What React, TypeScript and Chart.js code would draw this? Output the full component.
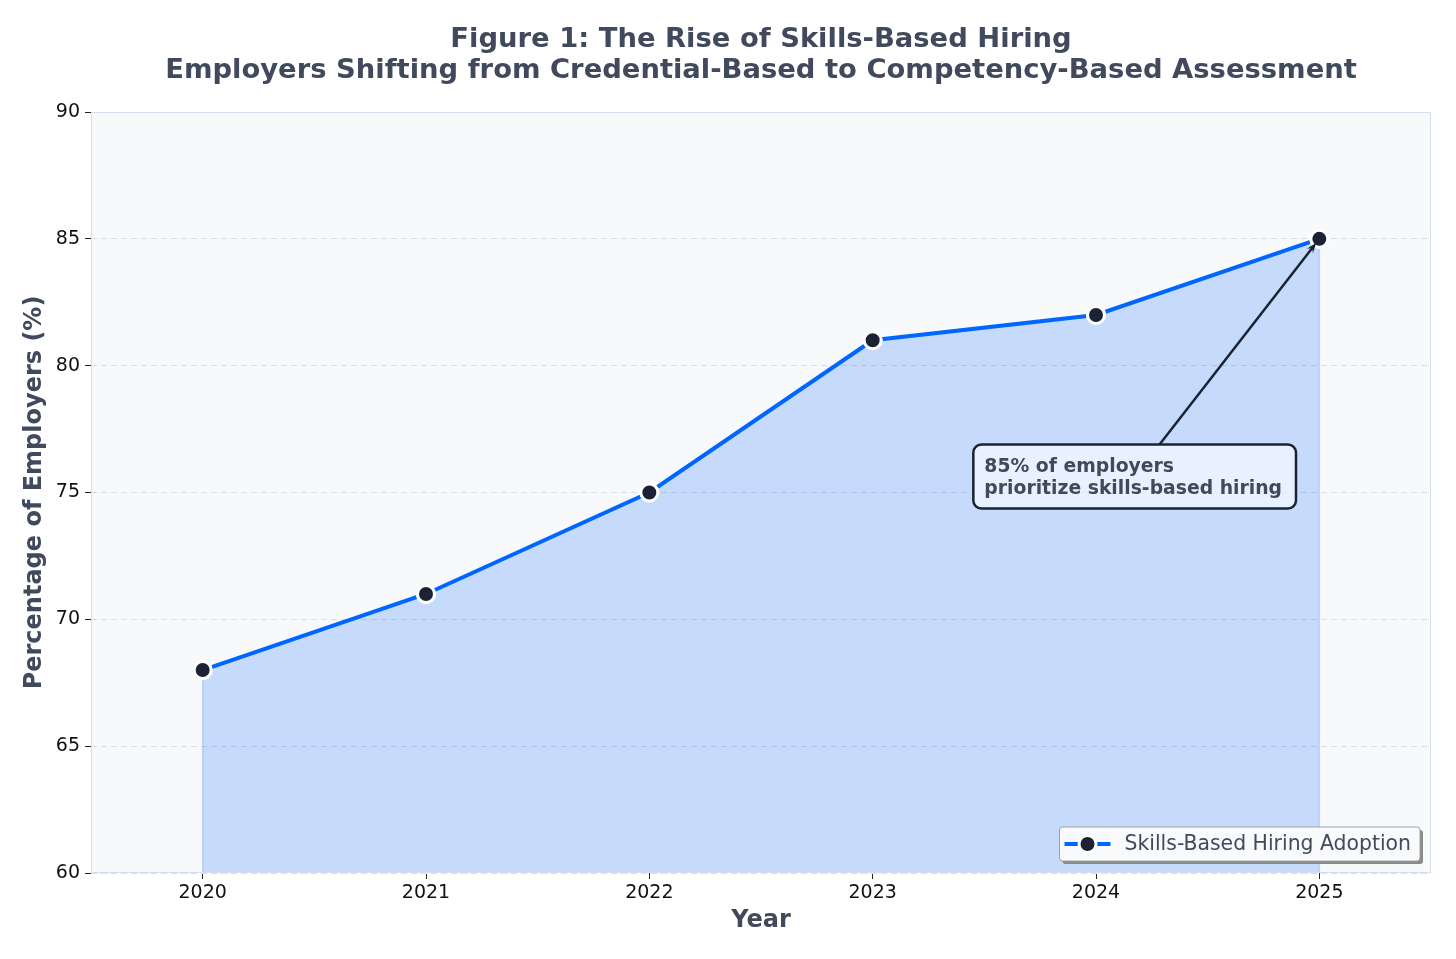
import React, { useEffect, useRef } from "react";
import { Chart, registerables } from "chart.js";

Chart.register(...registerables);

// Share of employers using skills-based hiring, by year
const years = ["2020", "2021", "2022", "2023", "2024", "2025"];
const adoption = [68, 71, 75, 81, 82, 85];
const yMin = 60;
const yMax = 90;
const yStep = 5;

const titleLines = [
  "Figure 1: The Rise of Skills-Based Hiring",
  "Employers Shifting from Credential-Based to Competency-Based Assessment",
];
const seriesLabel = "Skills-Based Hiring Adoption";
const xTitle = "Year";
const yTitle = "Percentage of Employers (%)";
const calloutLines = ["85% of employers", "prioritize skills-based hiring"];
// callout text anchor (category index units, value) and the point it refers to
const calloutAt = [3.5, 75];
const calloutTarget = [5, 85];

const FONT = "'DejaVu Sans', sans-serif";
const INK = "#414a5c";
const DARK = "#1a2233";
const BLUE = "#0066ff";
const MARKER_R = 8.5;
const MARKER_RING = 3;

function roundRect(ctx: CanvasRenderingContext2D, x: number, y: number, w: number, h: number, r: number) {
  ctx.beginPath();
  ctx.moveTo(x + r, y);
  ctx.lineTo(x + w - r, y);
  ctx.arcTo(x + w, y, x + w, y + r, r);
  ctx.lineTo(x + w, y + h - r);
  ctx.arcTo(x + w, y + h, x + w - r, y + h, r);
  ctx.lineTo(x + r, y + h);
  ctx.arcTo(x, y + h, x, y + h - r, r);
  ctx.lineTo(x, y + r);
  ctx.arcTo(x, y, x + r, y, r);
  ctx.closePath();
}

function drawMarker(ctx: CanvasRenderingContext2D, x: number, y: number) {
  ctx.beginPath();
  ctx.arc(x, y, MARKER_R, 0, Math.PI * 2);
  ctx.fillStyle = DARK;
  ctx.fill();
  ctx.lineWidth = MARKER_RING;
  ctx.strokeStyle = "#ffffff";
  ctx.stroke();
}

const decorations = {
  id: "decorations",
  beforeDraw(chart: any) {
    const { ctx, chartArea: a, width, height } = chart;
    ctx.save();
    ctx.fillStyle = "#ffffff";
    ctx.fillRect(0, 0, width, height);
    ctx.fillStyle = "#f8f9fb";
    ctx.fillRect(a.left, a.top, a.right - a.left, a.bottom - a.top);
    ctx.restore();
  },
  afterDatasetsDraw(chart: any) {
    const { ctx, chartArea: a, scales } = chart;
    const xs = scales.x;
    const ys = scales.y;
    ctx.save();

    // edges of the shaded area under the first and last points
    ctx.strokeStyle = "rgba(0,102,255,0.22)";
    ctx.lineWidth = 1.5;
    [0, adoption.length - 1].forEach((i) => {
      const px = xs.getPixelForValue(i);
      ctx.beginPath();
      ctx.moveTo(px, ys.getPixelForValue(adoption[i]) + 10);
      ctx.lineTo(px, a.bottom);
      ctx.stroke();
    });
    // redraw the markers on top of the edge lines
    adoption.forEach((v, i) => drawMarker(ctx, xs.getPixelForValue(i), ys.getPixelForValue(v)));

    // callout box
    ctx.font = `bold 18.8px ${FONT}`;
    const tx = xs.getPixelForValue(calloutAt[0]);
    const baseline = ys.getPixelForValue(calloutAt[1]);
    const lineGap = 22;
    const textW = Math.max(...calloutLines.map((s) => ctx.measureText(s).width));
    const bx = tx - 11;
    const bw = textW + 25;
    const by = baseline - lineGap * (calloutLines.length - 1) - 26;
    const bh = baseline + 16 - by;

    // arrow from the box centre toward the target point, clipped at the box top
    const cx = bx + bw / 2;
    const cy = by + bh / 2;
    const px = xs.getPixelForValue(calloutTarget[0]);
    const py = ys.getPixelForValue(calloutTarget[1]);
    const t = (cy - by) / (cy - py);
    const sx = cx + (px - cx) * t;
    const sy = by;
    const ang = Math.atan2(py - sy, px - sx);
    const ex = px - Math.cos(ang) * 5;
    const ey = py - Math.sin(ang) * 5;
    ctx.strokeStyle = DARK;
    ctx.fillStyle = DARK;
    ctx.lineWidth = 2.5;
    ctx.beginPath();
    ctx.moveTo(sx, sy);
    ctx.lineTo(ex - Math.cos(ang) * 4, ey - Math.sin(ang) * 4);
    ctx.stroke();
    const hl = 11;
    ctx.beginPath();
    ctx.moveTo(ex, ey);
    ctx.lineTo(ex - hl * Math.cos(ang - 0.35), ey - hl * Math.sin(ang - 0.35));
    ctx.lineTo(ex - hl * 0.6 * Math.cos(ang), ey - hl * 0.6 * Math.sin(ang));
    ctx.lineTo(ex - hl * Math.cos(ang + 0.35), ey - hl * Math.sin(ang + 0.35));
    ctx.closePath();
    ctx.fill();

    roundRect(ctx, bx, by, bw, bh, 8);
    ctx.fillStyle = "rgba(240,246,255,0.8)";
    ctx.fill();
    ctx.lineWidth = 2.5;
    ctx.strokeStyle = DARK;
    ctx.stroke();
    ctx.fillStyle = INK;
    ctx.textAlign = "left";
    ctx.textBaseline = "alphabetic";
    calloutLines.forEach((s, i) => {
      ctx.fillText(s, tx, baseline + 1 - lineGap * (calloutLines.length - 1 - i));
    });

    // legend, lower right, with drop shadow
    ctx.font = `20.4px ${FONT}`;
    const lw = 65 + ctx.measureText(seriesLabel).width + 9;
    const lh = 34;
    const lx = a.right - 11 - lw;
    const ly = a.bottom - 12 - lh;
    roundRect(ctx, lx + 3, ly + 3, lw, lh, 3);
    ctx.fillStyle = "#8a8a8a";
    ctx.fill();
    roundRect(ctx, lx, ly, lw, lh, 3);
    ctx.fillStyle = "#f9fafc";
    ctx.fill();
    ctx.lineWidth = 1;
    ctx.strokeStyle = "#a0a0a0";
    ctx.stroke();
    const my = ly + lh / 2;
    ctx.strokeStyle = BLUE;
    ctx.lineWidth = 4;
    ctx.beginPath();
    ctx.moveTo(lx + 5, my);
    ctx.lineTo(lx + 51, my);
    ctx.stroke();
    drawMarker(ctx, lx + 28, my);
    ctx.fillStyle = INK;
    ctx.textBaseline = "middle";
    ctx.fillText(seriesLabel, lx + 65, my + 1);

    // plot frame
    ctx.strokeStyle = "#d6ddec";
    ctx.lineWidth = 1;
    ctx.strokeRect(a.left + 0.5, a.top + 0.5, a.right - a.left - 1, a.bottom - a.top - 1);
    ctx.restore();
  },
  afterDraw(chart: any) {
    const { ctx, chartArea: a } = chart;
    ctx.save();
    ctx.fillStyle = INK;
    ctx.font = `bold 27.4px ${FONT}`;
    ctx.textAlign = "center";
    ctx.textBaseline = "alphabetic";
    const cx = (a.left + a.right) / 2;
    titleLines.forEach((s, i) => ctx.fillText(s, cx, 47 + i * 31));
    ctx.restore();
  },
};

export default function App() {
  const ref = useRef<HTMLCanvasElement | null>(null);

  useEffect(() => {
    if (!ref.current) return;
    const chart = new Chart(ref.current, {
      type: "line",
      data: {
        labels: years,
        datasets: [
          {
            label: seriesLabel,
            data: adoption,
            borderColor: BLUE,
            borderWidth: 4,
            backgroundColor: "rgba(0,102,255,0.2)",
            fill: "start",
            tension: 0,
            pointRadius: MARKER_R,
            pointBorderWidth: MARKER_RING,
            pointBackgroundColor: DARK,
            pointBorderColor: "#ffffff",
          },
        ],
      },
      options: {
        responsive: false,
        animation: false,
        layout: { padding: { top: 112, right: 25, left: 0, bottom: 0 } },
        plugins: {
          legend: { display: false },
          title: { display: false },
          tooltip: { enabled: false },
        },
        scales: {
          x: {
            type: "category",
            offset: true,
            afterFit: (s: any) => {
              s.height = 86;
            },
            border: { display: false },
            grid: {
              drawOnChartArea: false,
              drawTicks: true,
              tickLength: 6,
              tickColor: "#222222",
              tickWidth: 1,
            },
            ticks: { color: "#111111", font: { family: FONT, size: 19 }, padding: 3, maxRotation: 0 },
            title: {
              display: true,
              text: xTitle,
              color: INK,
              font: { family: FONT, size: 24, weight: "bold" },
              padding: { top: 0, bottom: 24 },
            },
          },
          y: {
            min: yMin,
            max: yMax,
            afterFit: (s: any) => {
              s.width = 91;
            },
            border: { display: false, dash: [6, 4] },
            grid: {
              color: "#dadde3",
              lineWidth: 1,
              tickLength: 6,
              tickColor: "#222222",
              tickWidth: 1,
              tickBorderDash: [],
            },
            ticks: { stepSize: yStep, color: "#111111", font: { family: FONT, size: 19 }, padding: 5 },
            title: {
              display: true,
              text: yTitle,
              color: INK,
              font: { family: FONT, size: 24, weight: "bold" },
              padding: { top: 20, bottom: 0 },
            },
          },
        },
      },
      plugins: [decorations],
    });
    return () => chart.destroy();
  }, []);

  return (
    <div style={{ position: "fixed", left: 0, top: 0, width: 1456, height: 959, background: "#ffffff" }}>
      <canvas ref={ref} width={1456} height={959} style={{ display: "block" }} />
    </div>
  );
}
